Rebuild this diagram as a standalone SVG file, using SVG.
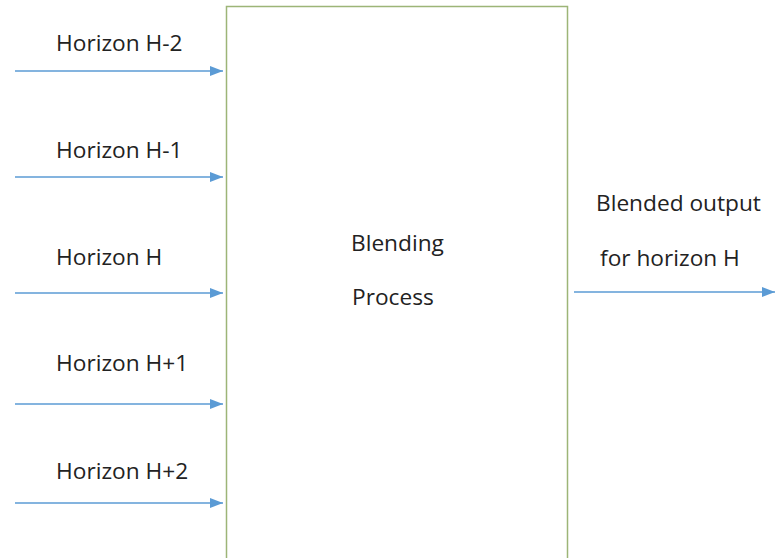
<svg xmlns="http://www.w3.org/2000/svg" width="775" height="558" viewBox="0 0 775 558">
<style>
text{font-family:"Open Sans","Liberation Sans",sans-serif;font-size:22.7px;fill:#222}
.c{stroke:#5b9bd5;stroke-width:1.6;fill:none}
</style>
<defs>
<marker id="a" markerWidth="13" markerHeight="10" refX="13" refY="5" orient="auto" markerUnits="userSpaceOnUse">
<path d="M0,0 L13,5 L0,10 Z" fill="#5b9bd5"/>
</marker>
</defs>
<rect width="775" height="558" fill="#fff"/>
<g id="blending">
<rect x="226.5" y="6.5" width="341" height="560" fill="#fff" stroke="#9db577" stroke-width="1.5"/>
<text x="351" y="251">Blending</text>
<text x="352" y="305">Process</text>
</g>
<g id="labels">
<text x="56" y="51">Horizon H-2</text>
<text x="56" y="158">Horizon H-1</text>
<text x="56" y="265">Horizon H</text>
<text x="56" y="371">Horizon H+1</text>
<text x="56" y="479">Horizon H+2</text>
<text x="596" y="211">Blended output</text>
<text x="600" y="266">for horizon H</text>
</g>
<g id="connectors">
<line class="c" x1="15" y1="71" x2="223" y2="71" marker-end="url(#a)"/>
<line class="c" x1="15" y1="177" x2="223" y2="177" marker-end="url(#a)"/>
<line class="c" x1="15" y1="293" x2="223" y2="293" marker-end="url(#a)"/>
<line class="c" x1="15" y1="404" x2="223" y2="404" marker-end="url(#a)"/>
<line class="c" x1="15" y1="503" x2="223" y2="503" marker-end="url(#a)"/>
<line class="c" x1="574" y1="292" x2="775" y2="292" marker-end="url(#a)"/>
</g>
</svg>
